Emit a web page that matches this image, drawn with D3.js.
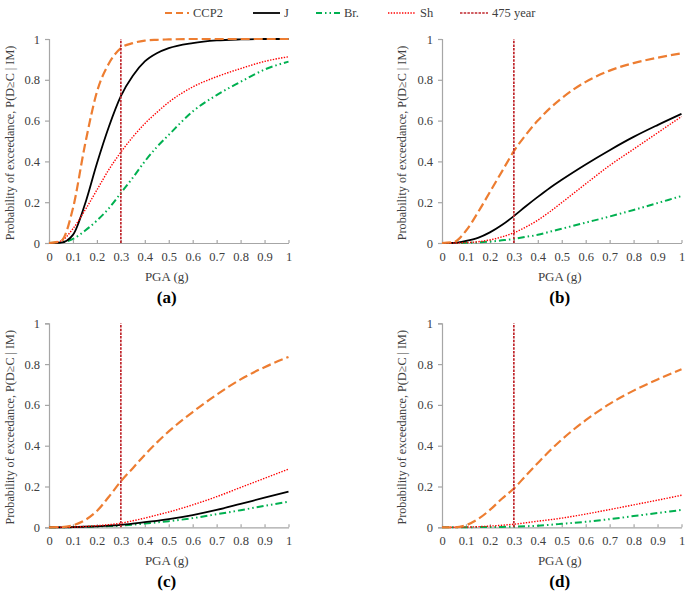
<!DOCTYPE html>
<html><head><meta charset="utf-8">
<script src="https://cdn.jsdelivr.net/npm/d3@7"></script>
<style>
body{margin:0;background:#fff;}
svg text{font-family:"Liberation Serif","DejaVu Serif",serif !important;}
</style></head>
<body><svg id="c" width="685" height="593"></svg>
<script>
const pga = [0,0.05,0.1,0.15,0.2,0.25,0.3,0.35,0.4,0.45,0.5,0.6,0.7,0.8,0.9,1.0];
const seriesNames = ["CCP2","J","Br.","Sh","475 year"];
const panelLabels = ["(a)","(b)","(c)","(d)"];
const xTicks = [0,0.1,0.2,0.3,0.4,0.5,0.6,0.7,0.8,0.9,1];
const yTicks = [0,0.2,0.4,0.6,0.8,1];
const designPGA = 0.3;

const ccp2A = [0,0.01,0.17,0.48,0.74,0.88,0.955,0.98,0.992,0.996,0.998,1,1,1,1,1];
const jA    = [0,0.002,0.04,0.19,0.39,0.57,0.72,0.82,0.89,0.93,0.955,0.98,0.993,0.998,1,1];
const brA   = [0,0.003,0.02,0.06,0.11,0.17,0.245,0.32,0.40,0.47,0.53,0.645,0.725,0.79,0.85,0.889];
const shA   = [0,0.01,0.07,0.16,0.26,0.36,0.445,0.52,0.585,0.64,0.69,0.765,0.815,0.855,0.89,0.913];

const ccp2B = [0,0.005,0.06,0.15,0.25,0.35,0.45,0.53,0.60,0.66,0.71,0.79,0.845,0.882,0.908,0.93];
const jB    = [0,0.001,0.01,0.025,0.052,0.088,0.132,0.18,0.226,0.27,0.31,0.385,0.455,0.52,0.578,0.633];
const brB   = [0,0,0.001,0.003,0.007,0.013,0.02,0.03,0.04,0.055,0.07,0.1,0.13,0.162,0.196,0.23];
const shB   = [0,0,0.002,0.006,0.015,0.03,0.05,0.078,0.112,0.153,0.198,0.29,0.38,0.46,0.54,0.62];

const ccp2C = [0,0.001,0.01,0.035,0.08,0.15,0.225,0.29,0.355,0.415,0.47,0.565,0.65,0.725,0.785,0.835];
const jC    = [0,0,0.001,0.003,0.005,0.008,0.012,0.018,0.025,0.032,0.04,0.06,0.085,0.115,0.145,0.175];
const brC   = [0,0,0.001,0.002,0.004,0.006,0.008,0.013,0.018,0.024,0.03,0.045,0.064,0.084,0.105,0.125];
const shC   = [0,0,0.001,0.004,0.008,0.013,0.02,0.032,0.045,0.06,0.075,0.11,0.15,0.195,0.24,0.285];

const ccp2D = [0,0,0.01,0.04,0.085,0.14,0.19,0.253,0.315,0.375,0.43,0.525,0.605,0.67,0.725,0.775];
const jD    = null; // not visible in panel (d)
const brD   = [0,0,0,0.001,0.001,0.002,0.003,0.005,0.008,0.012,0.017,0.027,0.04,0.055,0.07,0.085];
const shD   = [0,0,0.001,0.003,0.006,0.01,0.015,0.022,0.03,0.037,0.045,0.065,0.087,0.11,0.133,0.157];

const panelData = [
  {CCP2:ccp2A, J:jA, "Br.":brA, Sh:shA},
  {CCP2:ccp2B, J:jB, "Br.":brB, Sh:shB},
  {CCP2:ccp2C, J:jC, "Br.":brC, Sh:shC},
  {CCP2:ccp2D, J:jD, "Br.":brD, Sh:shD}
];

const styles = {
  "CCP2": {stroke:"#ED7D31", width:2.2, dash:"9,4"},
  "J": {stroke:"#000000", width:1.8, dash:null},
  "Br.": {stroke:"#00B050", width:2.0, dash:"7,3,1.5,3,1.5,3"},
  "Sh": {stroke:"#FF0000", width:1.4, dash:"1.4,1.4"},
  "475 year": {stroke:"#C0272D", width:1.7, dash:"2.5,1.2"}
};
const drawOrder = ["Br.","J","Sh","CCP2"];

const FONT = '"Liberation Serif","DejaVu Serif",serif';
const svg = d3.select("#c");
const axisColor = "#A6A6A6";

const panels = [
  {x0:49, x1:288.5, y0:243, y1:39, tx:10},
  {x0:442, x1:681.5, y0:243, y1:39, tx:402},
  {x0:49, x1:288.5, y0:527.3, y1:323.3, tx:10},
  {x0:442, x1:681.5, y0:527.3, y1:323.3, tx:402}
];

panels.forEach((p,i)=>{
  const g = svg.append("g");
  const x = d3.scaleLinear().domain([0,1]).range([p.x0,p.x1]);
  const y = d3.scaleLinear().domain([0,1]).range([p.y0,p.y1]);

  const ya = g.append("g").attr("transform",`translate(${p.x0},0)`)
    .call(d3.axisLeft(y).tickValues(yTicks).tickFormat(d3.format("~g")).tickSize(4).tickPadding(5));
  ya.attr("font-family",FONT);
  ya.select(".domain").attr("stroke",axisColor).attr("stroke-width",1.2);
  ya.selectAll(".tick line").attr("stroke",axisColor).attr("stroke-width",1.2);
  ya.selectAll("text").attr("font-size","12.5px").attr("fill","#404040").attr("font-family",FONT);

  const xa = g.append("g").attr("transform",`translate(0,${p.y0})`)
    .call(d3.axisBottom(x).tickValues(xTicks).tickFormat(d3.format("~g")).tickSizeInner(-3).tickSizeOuter(0).tickPadding(9));
  xa.attr("font-family",FONT);
  xa.select(".domain").attr("stroke",axisColor).attr("stroke-width",1.2);
  xa.selectAll(".tick line").attr("stroke",axisColor).attr("stroke-width",1.2);
  xa.selectAll("text").attr("font-size","12.5px").attr("fill","#404040").attr("font-family",FONT);

  const line = d3.line().x((d,k)=>x(pga[k])).y(d=>y(d)).curve(d3.curveMonotoneX);

  drawOrder.forEach(name=>{
    const vals = panelData[i][name];
    if(!vals) return;
    const s = styles[name];
    g.append("path").datum(vals).attr("d",line)
      .attr("fill","none").attr("stroke",s.stroke).attr("stroke-width",s.width)
      .attr("stroke-dasharray",s.dash);
  });

  const s = styles["475 year"];
  g.append("line").attr("x1",x(designPGA)).attr("x2",x(designPGA))
    .attr("y1",y(0)).attr("y2",y(1))
    .attr("stroke",s.stroke).attr("stroke-width",s.width).attr("stroke-dasharray",s.dash);

  const cx = (p.x0+p.x1)/2;
  g.append("text").attr("x",cx-2).attr("y",p.y0+38).attr("text-anchor","middle")
    .attr("font-family",FONT).attr("fill","#404040").attr("font-size","13px").text("PGA (g)");
  g.append("text").attr("x",cx-2).attr("y",p.y0+60).attr("text-anchor","middle")
    .attr("font-family",FONT).attr("font-size","17px").attr("font-weight","bold").attr("fill","#000").text(panelLabels[i]);
  g.append("text").attr("transform",`translate(${p.tx+4},${(p.y0+p.y1)/2+2}) rotate(-90)`)
    .attr("font-family",FONT).attr("fill","#404040")
    .attr("text-anchor","middle").attr("font-size","12.2px").text("Probability of exceedance, P(D\u2265C | IM)");
});

const legendItems = [
  {name:"CCP2", x0:165, x1:189},
  {name:"J", x0:253, x1:280},
  {name:"Br.", x0:316, x1:340},
  {name:"Sh", x0:388, x1:416},
  {name:"475 year", x0:460, x1:488}
];
const lg = svg.append("g");
legendItems.forEach(it=>{
  const s = styles[it.name];
  lg.append("line").attr("x1",it.x0).attr("x2",it.x1).attr("y1",13).attr("y2",13)
    .attr("stroke",s.stroke).attr("stroke-width",s.width)
    .attr("stroke-dasharray", it.name==="CCP2" ? "7,4" : (it.name==="Br." ? "6,3,1.5,3,1.5,3" : s.dash));
  lg.append("text").attr("x",it.x1+4).attr("y",17).attr("font-family",FONT)
    .attr("fill","#404040").attr("font-size","12.5px").text(it.name);
});
</script></body></html>
